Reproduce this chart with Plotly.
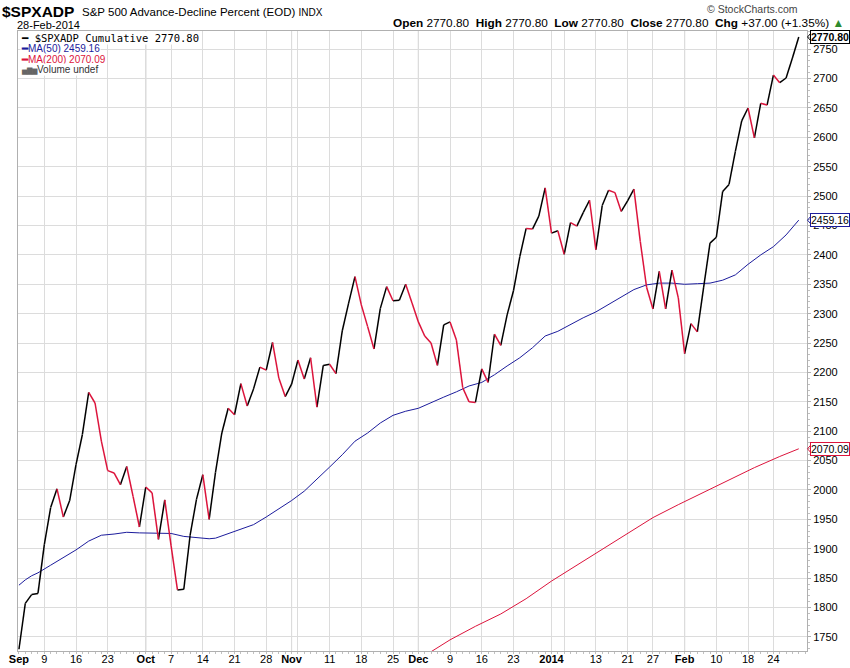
import pandas as pd
import plotly.graph_objects as go

# ---------------- data ----------------
holidays = ["2013-11-28", "2013-12-25", "2014-01-01", "2014-01-20", "2014-02-17"]
dates = [d for d in pd.bdate_range("2013-09-03", "2014-02-28") if d.strftime("%Y-%m-%d") not in holidays]

close = [1729, 1807, 1822, 1824, 1907, 1970, 2002, 1954, 1982, 2043,
         2094, 2166, 2148, 2083, 2033, 2029, 2009, 2040, 1989, 1937,
         2005, 1995, 1916, 1983, 1905, 1830, 1831, 1923, 1984, 2026,
         1950, 2030, 2097, 2139, 2128, 2181, 2143, 2172, 2209, 2204,
         2251, 2190, 2159, 2180, 2221, 2189, 2225, 2141, 2212, 2214,
         2198, 2271, 2318, 2363, 2315, 2278, 2240, 2309, 2346, 2322,
         2323, 2350, 2318, 2286, 2262, 2250, 2212, 2281, 2286, 2255,
         2174, 2150, 2149, 2206, 2183, 2265, 2246, 2298, 2339, 2397,
         2445, 2444, 2466, 2514, 2437, 2441, 2401, 2455, 2449, 2472,
         2493, 2409, 2484, 2510, 2506, 2474, 2492, 2512, 2423, 2345,
         2308, 2372, 2308, 2374, 2327, 2232, 2283, 2269, 2345, 2420,
         2430, 2508, 2520, 2576, 2628, 2650, 2599, 2658, 2655, 2706,
         2693, 2701, 2735, 2770.80]

ma50_idx = [0, 1, 2, 3, 5, 7, 9, 11, 13, 15, 17, 19, 22, 24, 26, 28, 30, 31,
            35, 37, 39, 41, 43, 45, 47, 49, 51, 53, 55, 57, 59, 61, 63,
            65, 67, 69, 71, 73, 75, 77, 79, 81, 83, 85, 87, 89, 91, 93, 95,
            97, 99, 101, 103, 105, 107, 109, 111, 113, 115, 117, 119, 121, 123]
ma50_val = [1838, 1847, 1854, 1859, 1872, 1885, 1898, 1913, 1923, 1925, 1928, 1927, 1927, 1926, 1921, 1919, 1917, 1918,
            1934, 1941, 1954, 1968, 1982, 1998, 2018, 2039, 2060, 2083, 2097, 2114, 2127, 2134, 2139,
            2149, 2158, 2167, 2177, 2183, 2196, 2211, 2225, 2242, 2262, 2270, 2282, 2293, 2303, 2316, 2329,
            2341, 2349, 2352, 2352, 2350, 2351, 2352, 2357, 2366, 2384, 2400, 2414, 2434, 2459.16]

ma200_idx = [63, 64, 68, 72, 76, 80, 84, 88, 92, 96, 100, 104, 108, 112, 116, 120, 123]
ma200_val = [1712, 1718, 1745, 1768, 1789, 1815, 1845, 1872, 1900, 1927, 1953, 1975, 1996, 2018, 2038, 2057, 2070.09]

tick_idx = [0, 4, 9, 14, 20, 24, 29, 34, 39, 43, 44, 49, 54, 59, 63, 68, 73, 78, 84, 86, 91, 96, 100, 105, 110, 115, 119]
tick_txt = ["<b>Sep</b>", "9", "16", "23", "<b>Oct</b>", "7", "14", "21", "28", "<b>Nov</b>", "", "11", "18", "25",
            "<b>Dec</b>", "9", "16", "23", "<b>2014</b>", "", "13", "21", "27", "<b>Feb</b>", "10", "18", "24"]
month_idx = [20, 43, 63, 84, 105]

BLACK = "#000000"
RED = "#dc143c"
NAVY = "#1c1c9c"

# ---------------- segments coloured by direction ----------------
up_x, up_y, dn_x, dn_y = [], [], [], []
for i in range(1, len(close)):
    if close[i] >= close[i - 1]:
        up_x += [i - 1, i, None]; up_y += [close[i - 1], close[i], None]
    else:
        dn_x += [i - 1, i, None]; dn_y += [close[i - 1], close[i], None]

fig = go.Figure()
fig.add_trace(go.Scatter(x=ma200_idx, y=ma200_val, mode="lines", line=dict(color=RED, width=1), hoverinfo="skip"))
fig.add_trace(go.Scatter(x=ma50_idx, y=ma50_val, mode="lines", line=dict(color=NAVY, width=1), hoverinfo="skip"))
fig.add_trace(go.Scatter(x=up_x, y=up_y, mode="lines", line=dict(color=BLACK, width=1.5), hoverinfo="skip"))
fig.add_trace(go.Scatter(x=dn_x, y=dn_y, mode="lines", line=dict(color=RED, width=1.5), hoverinfo="skip"))

PX_Y = (2781 - 1726) / 620.0  # data units per pixel
PX_X = 1 / 789.0              # paper units per pixel

shapes = []
for m in month_idx:
    shapes.append(dict(type="line", xref="x", yref="paper", x0=m, x1=m, y0=0, y1=1,
                       line=dict(color="#b4b4b4", width=1), layer="below"))

FONT = "Liberation Sans, Arial, sans-serif"
ann = []
ann.append(dict(xref="paper", yref="paper", x=-18/789, y=1 + 19/620, xanchor="left", yanchor="middle",
                text="<b>$SPXADP</b>", font=dict(size=15.5, family=FONT, color="#000"), showarrow=False))
ann.append(dict(xref="paper", yref="paper", x=(80-18)/789, y=1 + 19/620, xanchor="left", yanchor="middle",
                text="S&P 500 Advance-Decline Percent (EOD) <span style='font-size:10px'>INDX</span>",
                font=dict(size=11.5, family=FONT, color="#000"), showarrow=False))
ann.append(dict(xref="paper", yref="paper", x=(15-18)/789, y=1 + 6/620, xanchor="left", yanchor="middle",
                text="28-Feb-2014", font=dict(size=11, family=FONT, color="#000"), showarrow=False))
ann.append(dict(xref="paper", yref="paper", x=(846-18)/789, y=1 + 8.5/620, xanchor="right", yanchor="middle",
                text="<b>Open</b> 2770.80  <b>High</b> 2770.80  <b>Low</b> 2770.80  <b>Close</b> 2770.80  <b>Chg</b> +37.00 (+1.35%) <span style='color:#2e8b2e'>▲</span>",
                font=dict(size=11.8, family=FONT, color="#000"), showarrow=False))
ann.append(dict(xref="paper", yref="paper", x=(800-18)/789, y=1 + 22/620, xanchor="right", yanchor="middle",
                text="© StockCharts.com", font=dict(size=10.5, family=FONT, color="#444"), showarrow=False))

# legend rows
ann.append(dict(xref="paper", yref="paper", x=2/789, y=1 - 6.5/620, xanchor="left", yanchor="middle",
                text="<span style='color:#000'><b>━</b></span> $SPXADP Cumulative 2770.80", bgcolor="white",
                font=dict(size=10.5, family="DejaVu Sans Mono, monospace", color="#000"), showarrow=False, borderpad=0))
ann.append(dict(xref="paper", yref="paper", x=2/789, y=1 - 17/620, xanchor="left", yanchor="middle",
                text="<b>━</b>MA(50) 2459.16", bgcolor="white",
                font=dict(size=10, family=FONT, color=NAVY), showarrow=False, borderpad=0))
ann.append(dict(xref="paper", yref="paper", x=2/789, y=1 - 28/620, xanchor="left", yanchor="middle",
                text="<b>━</b>MA(200) 2070.09", bgcolor="white",
                font=dict(size=10, family=FONT, color=RED), showarrow=False, borderpad=0))
ann.append(dict(xref="paper", yref="paper", x=2/789, y=1 - 38.5/620, xanchor="left", yanchor="middle",
                text="<span style='font-size:7px;color:#666'>▅▇▆</span>Volume undef", bgcolor="white",
                font=dict(size=10, family=FONT, color="#333"), showarrow=False, borderpad=0))

# last value boxes with a small notch pointing at the axis
for val, col, bold in [(close[-1], BLACK, True), (ma50_val[-1], NAVY, False), (ma200_val[-1], RED, False)]:
    txt = f"{val:.2f}"
    ann.append(dict(xref="paper", yref="y", x=1, y=val, xanchor="left", yanchor="middle", xshift=3,
                    text=f"<b>{txt}</b>" if bold else txt, bgcolor="white", bordercolor=col, borderwidth=1, borderpad=0,
                    font=dict(size=10.5, family=FONT, color="#000"), showarrow=False))
    shapes.append(dict(type="path", xref="paper", yref="y",
                       path=f"M {1 + 4*PX_X},{val + 4*PX_Y} L {1 + 0.5*PX_X},{val} L {1 + 4*PX_X},{val - 4*PX_Y}",
                       line=dict(color=col, width=1), layer="above"))

fig.update_layout(
    width=850, height=668,
    margin=dict(l=18, r=43, t=31, b=17, autoexpand=False),
    paper_bgcolor="white", plot_bgcolor="white",
    showlegend=False,
    shapes=shapes,
    annotations=ann,
    xaxis=dict(range=[-0.15, 124.3], tickvals=tick_idx, ticktext=tick_txt, automargin=False,
               showgrid=True, gridcolor="#dcdcdc", gridwidth=1, zeroline=False,
               showline=True, linecolor="#b0b0b0", mirror=True,
               ticks="", ticklen=0, ticklabelstandoff=-2,
               minor=dict(dtick=1, tick0=0, ticks="outside", ticklen=2, tickcolor="#c0c0c0", showgrid=False),
               tickfont=dict(size=11, family=FONT, color="#000")),
    yaxis=dict(range=[1726, 2781], side="right", tickvals=list(range(1750, 2751, 50)), automargin=False,
               showgrid=True, gridcolor="#dcdcdc", gridwidth=1, zeroline=False,
               showline=True, linecolor="#b0b0b0", mirror=True,
               ticks="outside", ticklen=3, tickcolor="#b0b0b0",
               minor=dict(dtick=10, ticks="outside", ticklen=2, tickcolor="#c0c0c0", showgrid=False),
               tickfont=dict(size=11, family=FONT, color="#000")),
)

fig.write_html("out.html")
